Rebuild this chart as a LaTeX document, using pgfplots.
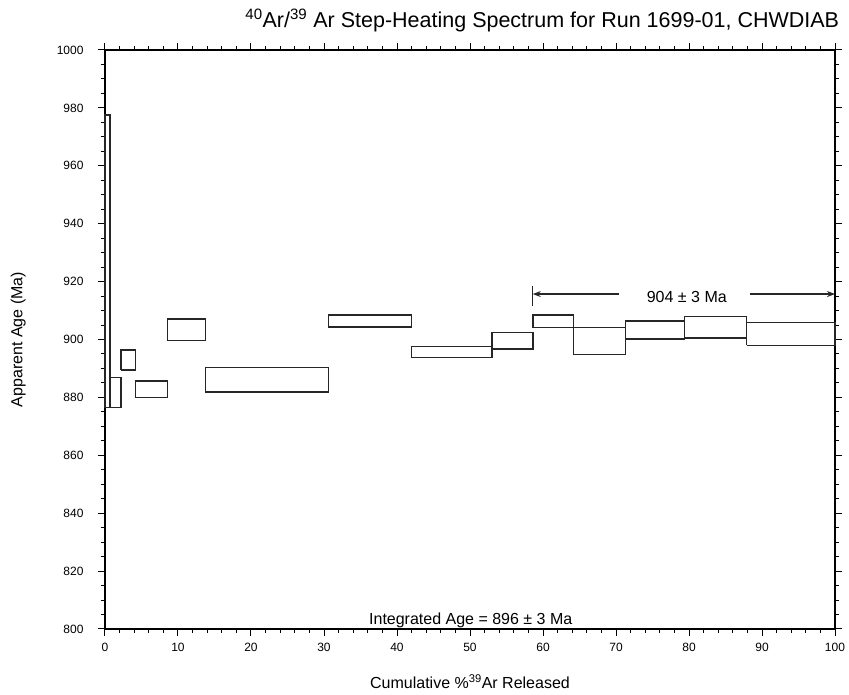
\documentclass[border=0pt]{standalone}
\usepackage{fontspec}
\setmainfont{Liberation Sans}
\usepackage{pgfplots}
\pgfplotsset{compat=1.18}
\usetikzlibrary{arrows.meta}
\begin{document}
\begin{tikzpicture}[stp/.style={black!85, line width=1.5pt, solid, mark=none}]
\begin{axis}[
  scale only axis, width=730pt, height=579pt,
  xmin=0, xmax=100, ymin=800, ymax=1000,
  xtick={0,10,...,100}, ytick={800,820,...,1000},
  minor x tick num=4, minor y tick num=3,
  tick align=outside,
  major tick length=7pt, minor tick length=4pt,
  tick style={black, line width=1pt},
  axis line style={black, line width=1.4pt},
  ticklabel style={font=\fontsize{12}{13}\selectfont},
  /pgf/number format/assume math mode=true,
  /pgf/number format/1000 sep={},
  xticklabel style={yshift=-4pt},
  yticklabel style={xshift=-11pt},
  clip=false,
  xlabel={Cumulative \%\textsuperscript{39}Ar Released},
  xlabel style={font=\fontsize{16}{18}\selectfont, at={(axis description cs:0.5,-0.1036)}, anchor=base},
  ylabel={Apparent Age (Ma)},
  ylabel style={font=\fontsize{16}{18}\selectfont, at={(axis description cs:-0.119,0.5)}, anchor=center},
]
\addplot[stp] coordinates {(0,876.5) (0.68,876.5) (0.68,977.6) (0,977.6) (0,876.5)};
\addplot[stp] coordinates {(0.68,876.5) (2.19,876.5) (2.19,886.9) (0.68,886.9) (0.68,876.5)};
\addplot[stp] coordinates {(2.19,889.5) (4.15,889.5) (4.15,896.3) (2.19,896.3) (2.19,889.5)};
\addplot[stp] coordinates {(4.15,879.9) (8.53,879.9) (8.53,885.6) (4.15,885.6) (4.15,879.9)};
\addplot[stp] coordinates {(8.53,899.7) (13.74,899.7) (13.74,907.1) (8.53,907.1) (8.53,899.7)};
\addplot[stp] coordinates {(13.74,881.9) (30.6,881.9) (30.6,890.3) (13.74,890.3) (13.74,881.9)};
\addplot[stp] coordinates {(30.6,904.4) (42.0,904.4) (42.0,908.5) (30.6,908.5) (30.6,904.4)};
\addplot[stp] coordinates {(42.0,893.7) (53.0,893.7) (53.0,897.6) (42.0,897.6) (42.0,893.7)};
\addplot[stp] coordinates {(53.0,896.7) (58.6,896.7) (58.6,902.4) (53.0,902.4) (53.0,896.7)};
\addplot[stp] coordinates {(58.6,904.1) (64.2,904.1) (64.2,908.5) (58.6,908.5) (58.6,904.1)};
\addplot[stp] coordinates {(64.2,894.8) (71.3,894.8) (71.3,904.1) (64.2,904.1) (64.2,894.8)};
\addplot[stp] coordinates {(71.3,900.2) (79.4,900.2) (79.4,906.4) (71.3,906.4) (71.3,900.2)};
\addplot[stp] coordinates {(79.4,900.5) (87.9,900.5) (87.9,908.0) (79.4,908.0) (79.4,900.5)};
\addplot[stp] coordinates {(87.9,898.0) (100,898.0) (100,905.9) (87.9,905.9) (87.9,898.0)};
% plateau annotation
\addplot[stp, line width=1.1pt, -{Stealth[length=8pt,width=6pt]}] coordinates {(70.4,915.7) (58.6,915.7)};
\addplot[stp, line width=1.1pt, -{Stealth[length=8pt,width=6pt]}] coordinates {(88.4,915.7) (100,915.7)};
\addplot[stp, line width=1.3pt] coordinates {(58.6,911.6) (58.6,918.5)};
\node[font=\fontsize{16}{18}\selectfont, anchor=base] at (axis cs:79.7,912.9) {904 ± 3 Ma};
\node[font=\fontsize{16}{18}\selectfont, anchor=base] at (axis cs:50.1,801.7) {Integrated Age = 896 ± 3 Ma};
\node[font=\fontsize{21.5}{24}\selectfont, anchor=base] at (axis description cs:0.599,1.0397) {\textsuperscript{40}Ar/\textsuperscript{39} Ar Step-Heating Spectrum for Run 1699-01, CHWDIAB};
\end{axis}
\pgfresetboundingbox
\path (-105pt,-66pt) rectangle (744pt,629pt);
\end{tikzpicture}
\end{document}
